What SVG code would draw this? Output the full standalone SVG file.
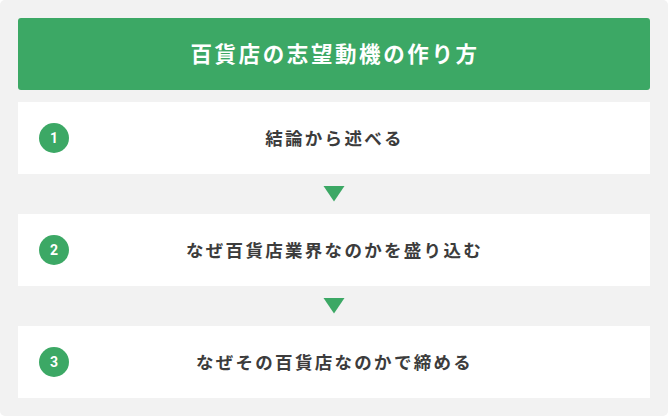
<svg xmlns="http://www.w3.org/2000/svg" width="668" height="416" viewBox="0 0 668 416">
<style>
.row{fill:#ffffff}
.t{font-family:"Noto Sans CJK JP","Noto Sans",sans-serif;font-weight:bold;font-size:17.5px;fill:#3c3c3c;letter-spacing:2.3px;text-anchor:middle}
.title{font-family:"Noto Sans CJK JP","Noto Sans",sans-serif;font-weight:bold;font-size:21.5px;fill:#ffffff;letter-spacing:2.6px;text-anchor:middle}
.num{font-family:"Roboto","Noto Sans",sans-serif;font-weight:bold;font-size:14px;fill:#ffffff;text-anchor:middle}
.badge{fill:#3ca865}
.arrow{fill:#3ca865}
</style>
<rect x="0" y="0" width="668" height="416" rx="5" fill="#f2f2f2"/>
<g id="title">
<rect x="18" y="18" width="632" height="72" rx="3" fill="#3ca865"/>
<text class="title" x="335" y="62">百貨店の志望動機の作り方</text>
</g>
<g id="step1">
<rect class="row" x="18" y="102" width="632" height="72"/>
<circle class="badge" cx="54" cy="138" r="15"/>
<text class="num" x="54" y="143">1</text>
<text class="t" x="334.5" y="144.5">結論から述べる</text>
</g>
<g id="step2">
<rect class="row" x="18" y="214" width="632" height="72"/>
<circle class="badge" cx="54" cy="250" r="15"/>
<text class="num" x="54" y="255">2</text>
<text class="t" x="334.5" y="256.5">なぜ百貨店業界なのかを盛り込む</text>
</g>
<g id="step3">
<rect class="row" x="18" y="326" width="632" height="72"/>
<circle class="badge" cx="54" cy="362" r="15"/>
<text class="num" x="54" y="367">3</text>
<text class="t" x="334.5" y="368.5">なぜその百貨店なのかで締める</text>
</g>
<g id="connectors">
<polygon class="arrow" points="323.5,186 344.5,186 334,201.5"/>
<polygon class="arrow" points="323.5,298 344.5,298 334,313.5"/>
</g>
</svg>
